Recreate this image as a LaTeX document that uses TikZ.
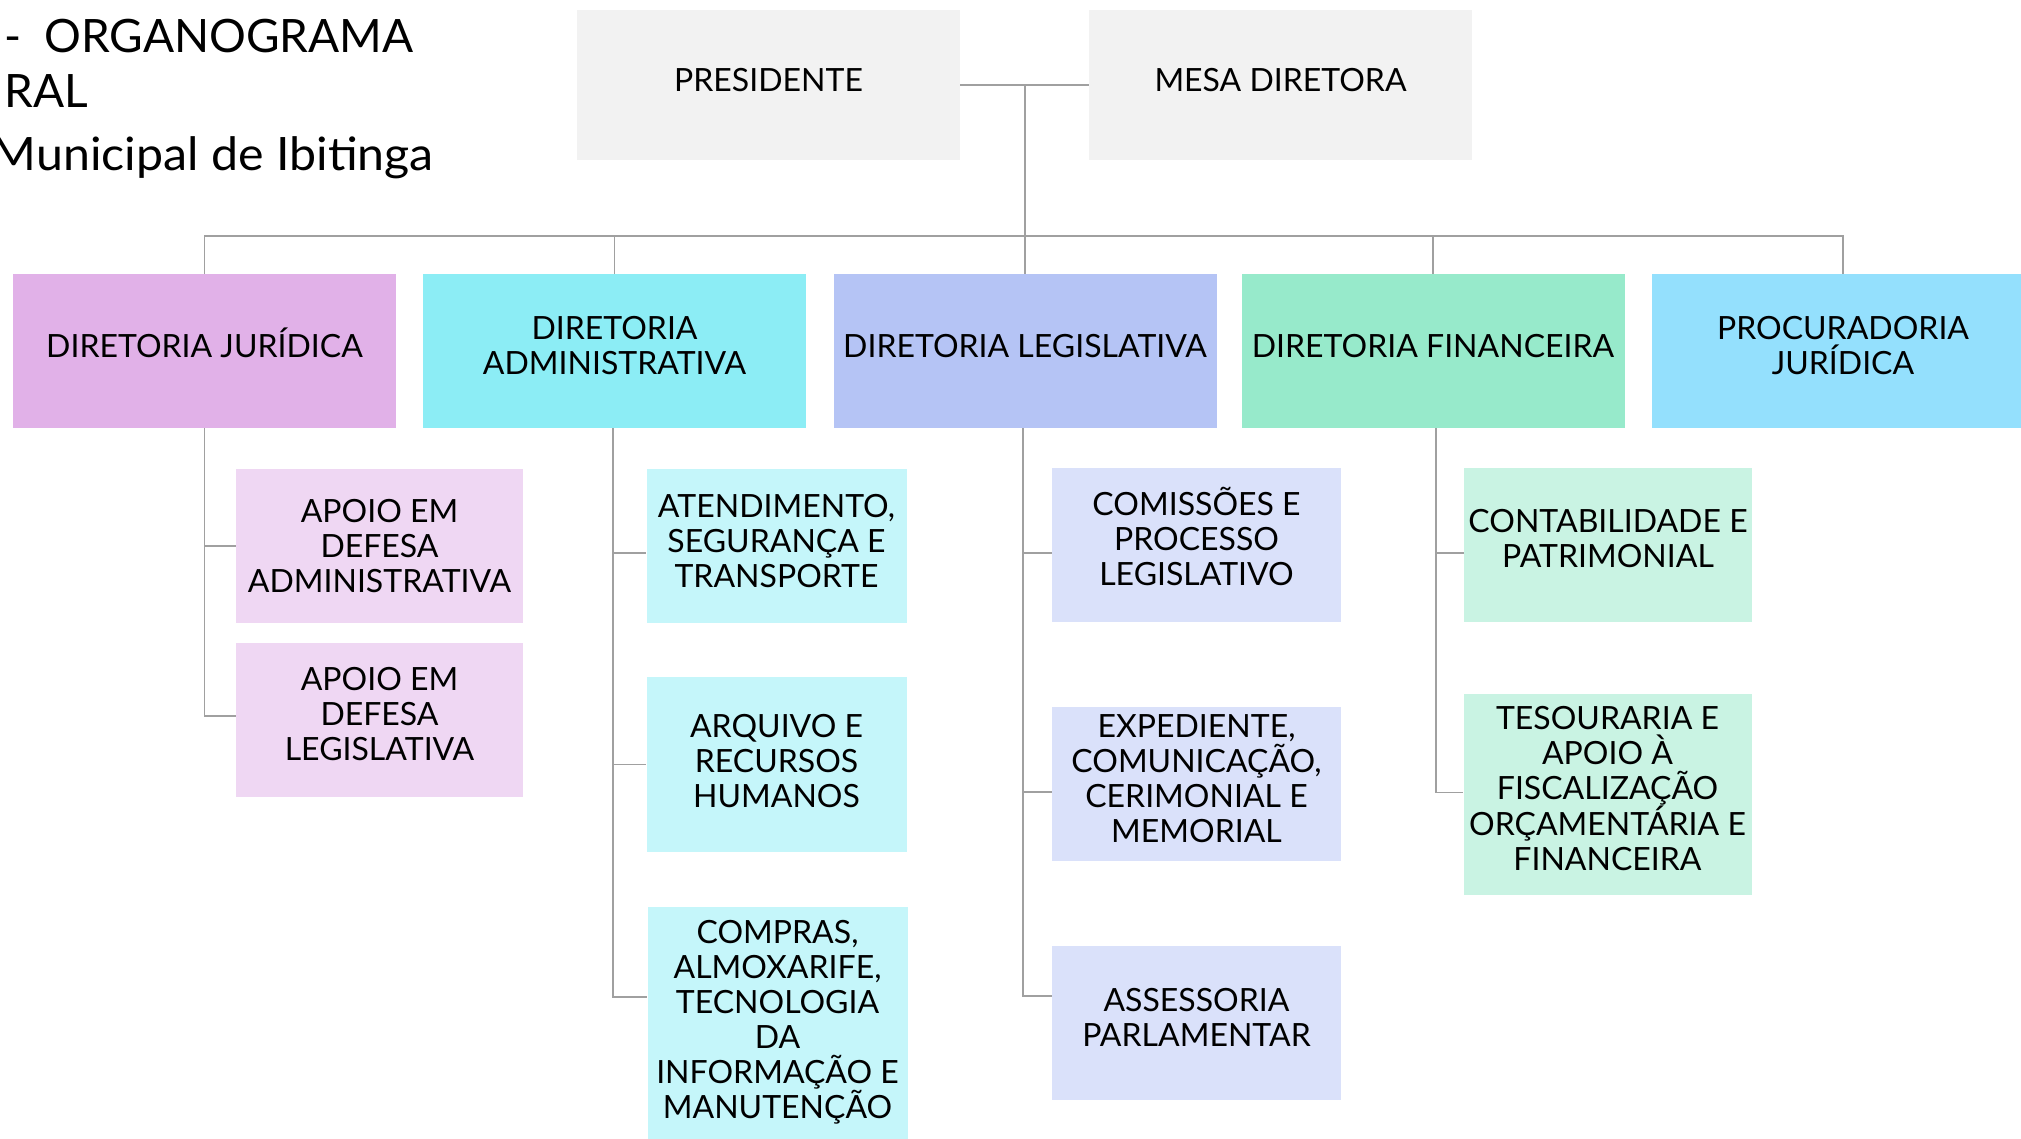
\documentclass[tikz,border=0pt]{standalone}
\usepackage{graphicx}
\usepackage{fontspec}
\setmainfont{Lato}
\definecolor{topgray}{HTML}{F2F2F2}
\definecolor{cJ}{HTML}{E1B1E8}
\definecolor{cA}{HTML}{8CEDF5}
\definecolor{cL}{HTML}{B5C4F5}
\definecolor{cF}{HTML}{97EACB}
\definecolor{cP}{HTML}{94E0FD}
\definecolor{lJ}{HTML}{EFD7F3}
\definecolor{lA}{HTML}{C5F6FA}
\definecolor{lL}{HTML}{DAE1FA}
\definecolor{lF}{HTML}{C9F3E3}
\definecolor{linegray}{HTML}{A0A0A0}
\begin{document}
\begin{tikzpicture}[x=1pt,y=-1pt,
  box/.style={rectangle, inner sep=0pt},
  txt/.style={align=center, text=black, inner sep=0pt,
    font=\fontsize{32}{35}\selectfont},
  T/.style 2 args={label={[txt,yshift=#1pt]center:{#2}}},
  conn/.style={draw=linegray, line width=1.6pt},
  ttl/.style={inner sep=0pt, anchor=base west, font=\fontsize{46}{54}\selectfont}]
\useasboundingbox (0,0) rectangle (2021,1139);

% title (cut at the left edge)
\node[ttl] (t1) at (4,53) {-\hspace{0.5em}ORGANOGRAMA};
\node[ttl] (t2) at (4,108) {RAL};
\node[ttl, anchor=base east] (t3) at (434,171) {\scalebox{1.05}[1]{Municipal de Ibitinga}};

% top row
\node[box, fill=topgray, minimum width=383pt, minimum height=150pt, T={5}{PRESIDENTE}] (pres) at (768.5,85) {};
\node[box, fill=topgray, minimum width=383pt, minimum height=150pt, T={5}{MESA DIRETORA}] (mesa) at (1280.5,85) {};

% directorates
\node[box, fill=cJ, minimum width=383pt, minimum height=154pt, T={8}{DIRETORIA JURÍDICA}] (dj) at (204.5,351) {};
\node[box, fill=cA, minimum width=383pt, minimum height=154pt, T={5}{DIRETORIA\\ADMINISTRATIVA}] (da) at (614.5,351) {};
\node[box, fill=cL, minimum width=383pt, minimum height=154pt, T={5}{DIRETORIA LEGISLATIVA}] (dl) at (1025,351) {};
\node[box, fill=cF, minimum width=383pt, minimum height=154pt, T={5}{DIRETORIA FINANCEIRA}] (df) at (1433,351) {};
\node[box, fill=cP, minimum width=383pt, minimum height=154pt, T={5}{PROCURADORIA\\JURÍDICA}] (pj) at (1843,351) {};

% children of Diretoria Jurídica
\node[box, fill=lJ, minimum width=287pt, minimum height=154pt, T={0}{APOIO EM\\DEFESA\\ADMINISTRATIVA}] (j1) at (379.5,546) {};
\node[box, fill=lJ, minimum width=287pt, minimum height=154pt, T={6}{APOIO EM\\DEFESA\\LEGISLATIVA}] (j2) at (379.5,720) {};

% children of Diretoria Administrativa
\node[box, fill=lA, minimum width=260pt, minimum height=154pt, T={5}{ATENDIMENTO,\\SEGURANÇA E\\TRANSPORTE}] (a1) at (776.5,546) {};
\node[box, fill=lA, minimum width=260pt, minimum height=175pt, T={3}{ARQUIVO E\\RECURSOS\\HUMANOS}] (a2) at (776.5,764.5) {};
\node[box, fill=lA, minimum width=260pt, minimum height=234pt, T={2}{COMPRAS,\\ALMOXARIFE,\\TECNOLOGIA\\DA\\INFORMAÇÃO E\\MANUTENÇÃO}] (a3) at (777.5,1024) {};

% children of Diretoria Legislativa
\node[box, fill=lL, minimum width=289pt, minimum height=154pt, T={9}{COMISSÕES E\\PROCESSO\\LEGISLATIVO}] (l1) at (1196.5,545) {};
\node[box, fill=lL, minimum width=289pt, minimum height=154pt, T={5}{EXPEDIENTE,\\COMUNICAÇÃO,\\CERIMONIAL E\\MEMORIAL}] (l2) at (1196.5,784) {};
\node[box, fill=lL, minimum width=289pt, minimum height=154pt, T={6}{ASSESSORIA\\PARLAMENTAR}] (l3) at (1196.5,1023) {};

% children of Diretoria Financeira
\node[box, fill=lF, minimum width=288pt, minimum height=154pt, T={6}{CONTABILIDADE E\\PATRIMONIAL}] (f1) at (1608,545) {};
\node[box, fill=lF, minimum width=288pt, minimum height=201pt, T={6}{TESOURARIA E\\APOIO À\\FISCALIZAÇÃO\\ORÇAMENTÁRIA E\\FINANCEIRA}] (f2) at (1607.5,794.5) {};

% connectors, top
\coordinate (bus) at (0,236);
\draw[conn] (pres.east) -- (mesa.west);
\draw[conn] (pres.east -| dl.north) -- (dl.north);
\draw[conn] (dj.north) -- (dj.north |- bus) -- (pj.north |- bus) -- (pj.north);
\draw[conn] (da.north |- bus) -- (da.north);
\draw[conn] (df.north |- bus) -- (df.north);

% connectors, children
\draw[conn] (dj.south) |- (j1.west);
\draw[conn] (dj.south) |- ([yshift=4pt]j2.west);
\draw[conn] ([xshift=-1.5pt]da.south) |- ([yshift=-7pt]a1.west);
\draw[conn] ([xshift=-1.5pt]da.south) |- (a2.west);
\draw[conn] ([xshift=-1.5pt]da.south) |- ([yshift=27pt]a3.west);
\draw[conn] ([xshift=-2pt]dl.south) |- ([yshift=-8pt]l1.west);
\draw[conn] ([xshift=-2pt]dl.south) |- ([yshift=-8pt]l2.west);
\draw[conn] ([xshift=-2pt]dl.south) |- ([yshift=27pt]l3.west);
\draw[conn] ([xshift=3pt]df.south) |- ([yshift=-8pt]f1.west);
\draw[conn] ([xshift=3pt]df.south) |- ([yshift=2pt]f2.west);
\end{tikzpicture}
\end{document}
